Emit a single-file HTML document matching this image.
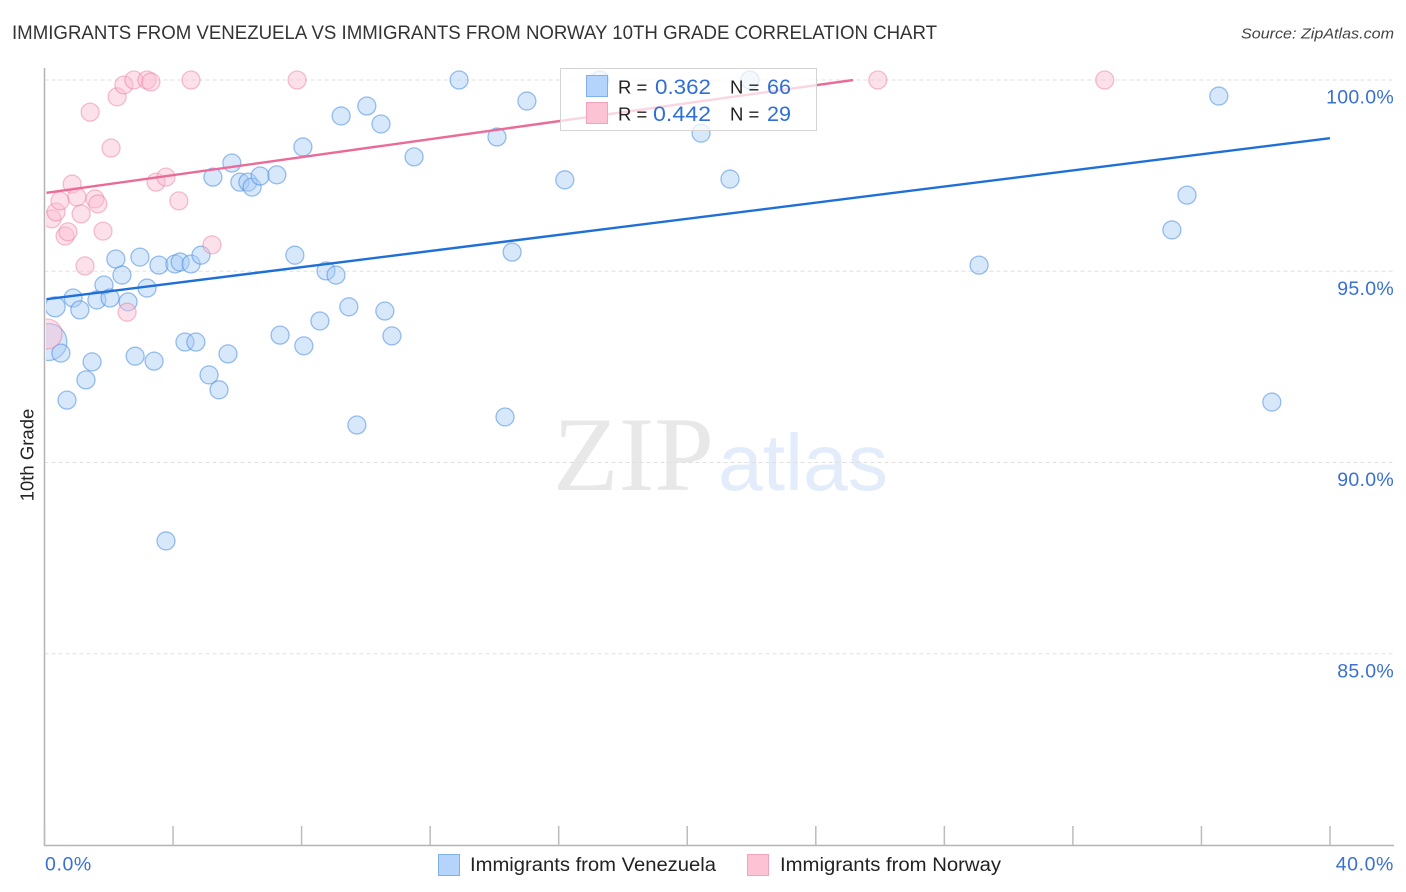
<!DOCTYPE html>
<html lang="en">
<head>
<meta charset="utf-8">
<title>Immigrants from Venezuela vs Immigrants from Norway 10th Grade Correlation Chart</title>
<style>
html,body{margin:0;padding:0;background:#fff;}
svg{display:block;font-family:"Liberation Sans",sans-serif;}
</style>
</head>
<body>
<svg id="chart" xmlns="http://www.w3.org/2000/svg" width="1406" height="892" viewBox="0 0 1406 892">
  <rect x="0" y="0" width="1406" height="892" fill="#ffffff"/>
  <text x="12" y="39" font-size="19" fill="#333333" textLength="925" lengthAdjust="spacingAndGlyphs">IMMIGRANTS FROM VENEZUELA VS IMMIGRANTS FROM NORWAY 10TH GRADE CORRELATION CHART</text>
  <text x="1241" y="38.500" font-size="15" font-style="italic" fill="#444444" textLength="153" lengthAdjust="spacingAndGlyphs">Source: ZipAtlas.com</text>

  <g>
    <text x="553" y="490" font-family="'Liberation Serif',serif" font-size="106" fill="#e8e8e8" textLength="161" lengthAdjust="spacingAndGlyphs">ZIP</text>
    <text x="718" y="490" font-size="80" fill="#e3ecfa" textLength="170" lengthAdjust="spacingAndGlyphs">atlas</text>
  </g>

  <g id="grid"></g>
  <g id="axes"></g>
  <g id="plot"></g>

  <text transform="translate(33.500,455) rotate(-90)" text-anchor="middle" font-size="18.500" fill="#222222">10th Grade</text>

  <g>
    <rect x="560.500" y="68.500" width="256" height="62" fill="#ffffff" fill-opacity="0.72" stroke="#d4d4d4" stroke-width="1"/>
    <rect x="586.500" y="75.500" width="21" height="21" fill="#b5d4fb" stroke="#7fb0ea" stroke-width="1"/>
    <rect x="586.500" y="102.500" width="21" height="21" fill="#fcc3d4" stroke="#f3a3bb" stroke-width="1"/>
    <text x="618" y="93.500" font-size="18.500" fill="#222222">R =</text>
    <text x="655" y="94" font-size="21" fill="#2f6fd6" textLength="56" lengthAdjust="spacingAndGlyphs">0.362</text>
    <text x="730" y="93.500" font-size="18.500" fill="#222222">N =</text>
    <text x="767" y="94" font-size="21" fill="#2f6fd6" textLength="24" lengthAdjust="spacingAndGlyphs">66</text>
    <text x="618" y="120.500" font-size="18.500" fill="#222222">R =</text>
    <text x="653" y="121" font-size="21" fill="#2f6fd6" textLength="58" lengthAdjust="spacingAndGlyphs">0.442</text>
    <text x="730" y="120.500" font-size="18.500" fill="#222222">N =</text>
    <text x="767" y="121" font-size="21" fill="#2f6fd6" textLength="24" lengthAdjust="spacingAndGlyphs">29</text>
  </g>

  <g>
    <g>
      <rect x="438.500" y="854.500" width="21" height="21" fill="#b5d4fb" stroke="#7fb0ea" stroke-width="1"/>
      <text x="470" y="871" font-size="19" fill="#222222" textLength="246" lengthAdjust="spacingAndGlyphs">Immigrants from Venezuela</text>
    </g>
    <g>
      <rect x="747.500" y="854.500" width="21" height="21" fill="#fcc3d4" stroke="#f3a3bb" stroke-width="1"/>
      <text x="780" y="871" font-size="19" fill="#222222" textLength="221" lengthAdjust="spacingAndGlyphs">Immigrants from Norway</text>
    </g>
  </g>
</svg>

<script>
const yTickValues = [100, 95, 90, 85];
const yTickLabels = ["100.0%", "95.0%", "90.0%", "85.0%"];
const xTickValues = [0, 4, 8, 12, 16, 20, 24, 28, 32, 36, 40];
const xEdgeValues = [0, 40];
const xEdgeLabels = ["0.0%", "40.0%"];

const venezuelaX = [0.12,0.33,0.51,0.70,0.89,1.10,1.29,1.48,1.63,1.85,2.04,2.22,2.41,2.60,2.82,2.97,3.19,3.41,3.56,3.78,4.06,4.22,4.37,4.56,4.71,4.87,5.12,5.24,5.43,5.71,5.83,6.08,6.33,6.46,6.71,7.23,7.33,7.79,8.04,8.07,8.57,8.76,9.07,9.23,9.47,9.72,10.03,10.47,10.59,10.81,11.50,12.90,14.08,14.33,14.55,15.01,16.19,17.28,20.43,21.33,21.95,29.08,35.08,35.55,36.54,38.19];
const venezuelaY = [93.15,94.07,92.86,91.63,94.30,93.99,92.16,92.63,94.25,94.64,94.30,95.32,94.90,94.20,92.78,95.37,94.56,92.65,95.16,87.95,95.19,95.24,93.15,95.19,93.15,95.42,92.29,97.46,91.90,92.84,97.83,97.33,97.33,97.20,97.49,97.52,93.33,95.42,98.25,93.05,93.70,95.01,94.90,99.06,94.07,90.98,99.32,98.85,93.96,93.31,97.99,100,98.51,91.19,95.50,99.45,97.39,100,98.61,97.41,100,95.16,96.08,96.99,99.58,91.58];
const venezuelaSizes = [18.5,10,9,9,9,9,9,9,9,9,9,9,9,9,9,9,9,9,9,9,9,9,9,9,9,9,9,9,9,9,9,9,9,9,9,9,9,9,9,9,9,9,9,9,9,9,9,9,9,9,9,9,9,9,9,9,9,9,9,9,9,9,9,9,9,9];

const norwayX = [0.08,0.23,0.36,0.48,0.64,0.73,0.86,1.01,1.14,1.26,1.42,1.57,1.66,1.82,2.07,2.26,2.47,2.57,2.78,3.19,3.31,3.47,3.78,4.18,4.56,5.21,7.86,25.93,32.99];
const norwayY = [93.36,96.37,96.55,96.84,95.92,96.03,97.28,96.94,96.50,95.14,99.16,96.89,96.76,96.05,98.22,99.56,99.87,93.93,100,100,99.95,97.33,97.46,96.84,100,95.69,100,100,100];
const norwaySizes = [15,9,9,9,9,9,9,9,9,9,9,9,9,9,9,9,9,9,9,9,9,9,9,9,9,9,9,9,9];

const venezuelaTrendX = [0.06, 40];
const venezuelaTrendY = [94.27, 98.48];
const norwayTrendX = [0.06, 25.16];
const norwayTrendY = [97.05, 100];

const SVG_NS = "http://www.w3.org/2000/svg";
const xScale = v => 44.5 + v * (1330 - 44.5) / 40;
const yScale = v => 80 + (100 - v) * 38.25;

function make(tag, attrs, parent, text) {
  const el = document.createElementNS(SVG_NS, tag);
  for (const k in attrs) el.setAttribute(k, attrs[k]);
  if (text !== undefined) el.textContent = text;
  parent.appendChild(el);
  return el;
}

const grid = document.getElementById("grid");
const axes = document.getElementById("axes");
const plot = document.getElementById("plot");

yTickValues.forEach((v, i) => {
  const line = make("line", {x1: 44.5, x2: 1394, y1: yScale(v), y2: yScale(v), stroke: "#e0e0e0", "stroke-width": 1, "stroke-dasharray": "4 3"}, grid);
  
  
  const label = make("text", {x: 1394, y: yScale(v) + 23.5, "text-anchor": "end", "font-size": 19.5, "letter-spacing": 0.3, fill: "#3a70d2"}, axes, yTickLabels[i]);
  
  
});

const yAxis = make("line", {x1: 44.5, x2: 44.5, y1: 68, y2: 845.5, stroke: "#b4b4b4", "stroke-width": 1.5}, axes);


const xAxis = make("line", {x1: 44, x2: 1394, y1: 845.5, y2: 845.5, stroke: "#b4b4b4", "stroke-width": 1.5}, axes);



xTickValues.forEach(v => {
  const tick = make("line", {x1: xScale(v), x2: xScale(v), y1: 826, y2: 845.5, stroke: "#bcbcbc", "stroke-width": 1.5}, axes);
  
  
});

xEdgeValues.forEach((v, i) => {
  const anchor = i === 0 ? "start" : "end";
  const px = i === 0 ? xScale(v) + 0.5 : 1394;
  const label = make("text", {x: px, y: 870.5, "text-anchor": anchor, "font-size": 19.5, "letter-spacing": 0.6, fill: "#3a70d2"}, axes, xEdgeLabels[i]);
  
  
});

const defs = make("defs", {}, plot);
const clip = make("clipPath", {id: "plot-clip"}, defs);
make("rect", {x: 46, y: 60, width: 1350, height: 785}, clip);
const lineClip = make("clipPath", {id: "line-clip"}, defs);
make("rect", {x: 46, y: 79, width: 1350, height: 766}, lineClip);

const clipped = make("g", {"clip-path": "url(#plot-clip)"}, plot);



venezuelaX.forEach((v, i) => {
  const c = make("circle", {cx: xScale(v), cy: yScale(venezuelaY[i]), r: venezuelaSizes[i], fill: "#a9ccf6", "fill-opacity": 0.45, stroke: "#4a8ce0", "stroke-opacity": 0.55, "stroke-width": 1.3}, clipped);
  
  
});

norwayX.forEach((v, i) => {
  const c = make("circle", {cx: xScale(v), cy: yScale(norwayY[i]), r: norwaySizes[i], fill: "#fbbdd0", "fill-opacity": 0.45, stroke: "#e8789c", "stroke-opacity": 0.45, "stroke-width": 1.3}, clipped);
  
  
});

const trendLayer = make("g", {"clip-path": "url(#line-clip)"}, plot);



const blueTrend = make("line", {x1: xScale(venezuelaTrendX[0]), y1: yScale(venezuelaTrendY[0]), x2: xScale(venezuelaTrendX[1]), y2: yScale(venezuelaTrendY[1]), stroke: "#1f6fd8", "stroke-width": 2.4}, trendLayer);



const pinkTrend = make("line", {x1: xScale(norwayTrendX[0]), y1: yScale(norwayTrendY[0]), x2: xScale(norwayTrendX[1]), y2: yScale(norwayTrendY[1]), stroke: "#ec6a97", "stroke-width": 2.4}, trendLayer);


</script>
</body>
</html>
